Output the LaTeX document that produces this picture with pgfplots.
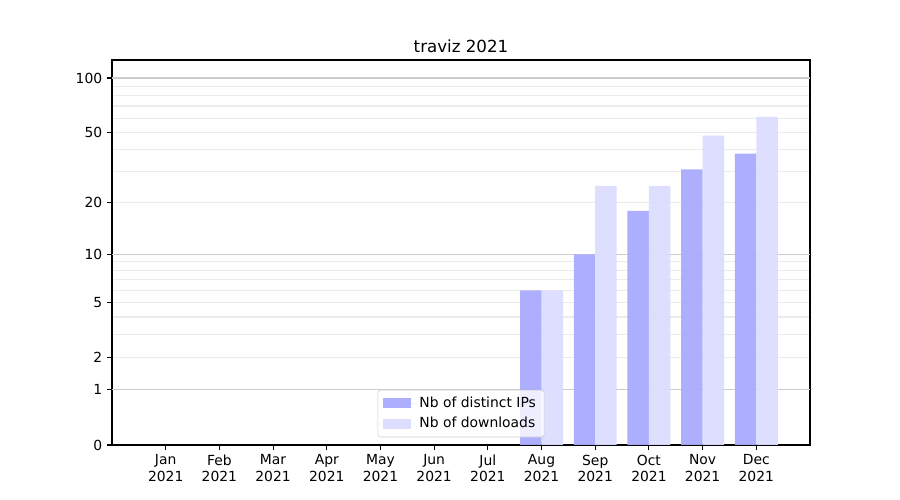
\documentclass[border=0pt]{standalone}
\usepackage{pgfplots}
\pgfplotsset{compat=1.18}
\usepackage{fontspec}
\setmainfont{DejaVu Sans}
\definecolor{ipcol}{HTML}{AAAAFF}
\definecolor{dlcol}{HTML}{DCDCFF}
\begin{document}
\begin{tikzpicture}
\begin{axis}[
  name=ax,
  scale only axis,
  width=502.56pt, height=277.2pt,
  xmin=-1, xmax=12,
  ymin=0, ymax=125.7,
  y coord trafo/.code={\pgfmathparse{log10(1+#1)}},
  y coord inv trafo/.code={\pgfmathparse{10^(#1)-1}},
  xtick={0,...,11},
  xticklabels={{Jan\\2021},{Feb\\2021},{Mar\\2021},{Apr\\2021},{May\\2021},{Jun\\2021},{Jul\\2021},{Aug\\2021},{Sep\\2021},{Oct\\2021},{Nov\\2021},{Dec\\2021}},
  x tick label style={align=center, font=\fontsize{10}{12}\selectfont},
  ytick={0,1,2,5,10,20,50,100},
  yticklabels={0,1,2,5,10,20,50,100},
  y tick label style={font=\fontsize{10}{12}\selectfont},
  minor ytick={3,4,6,7,8,9,30,40,60,70,80,90},
  minor tick length=0pt,
  major tick length=3.5pt,
  tick align=outside,
  tick pos=left,
  tick style={black, line width=0.8pt},
  axis line style={line width=0.8pt},
  ymajorgrids, yminorgrids,
  major grid style={color=black!8, line width=0.8pt},
  minor grid style={color=black!8, line width=0.8pt},
  extra y ticks={1,10,100},
  extra y tick labels={},
  extra y tick style={grid=major, major tick length=0pt, major grid style={color=black!20, line width=0.8pt}},
  /pgf/number format/assume math mode=true,
  title={traviz 2021},
  title style={font=\fontsize{12}{14}\selectfont, yshift=-4.5pt},
  legend style={at={(0.5,0.02)}, anchor=south, font=\fontsize{10}{12}\selectfont,
    draw=black!20, rounded corners=2pt, fill=white, fill opacity=0.8, text opacity=1,
    row sep=1.5pt, inner xsep=4pt, inner ysep=3pt},
  legend cell align=left,
  legend image code/.code={\fill[#1, sharp corners] (0pt,-3.6pt) rectangle (20pt,3.6pt); \path (0pt,0pt) -- (24pt,0pt);},
]
\addplot[ybar, bar width=0.4, bar shift=-0.2, fill=ipcol, draw=none, fill opacity=0.95]
  coordinates {(7,6) (8,10) (9,18) (10,31) (11,38)};
\addlegendentry{Nb of distinct IPs}
\addplot[ybar, bar width=0.4, bar shift=0.2, fill=dlcol, draw=none, fill opacity=0.95]
  coordinates {(7,6) (8,25) (9,25) (10,48) (11,61)};
\addlegendentry{Nb of downloads}
\end{axis}
\path (ax.south west) ++(-80.64pt,-39.6pt) rectangle ([shift={(64.8pt,43.2pt)}]ax.north east);
\end{tikzpicture}
\end{document}
